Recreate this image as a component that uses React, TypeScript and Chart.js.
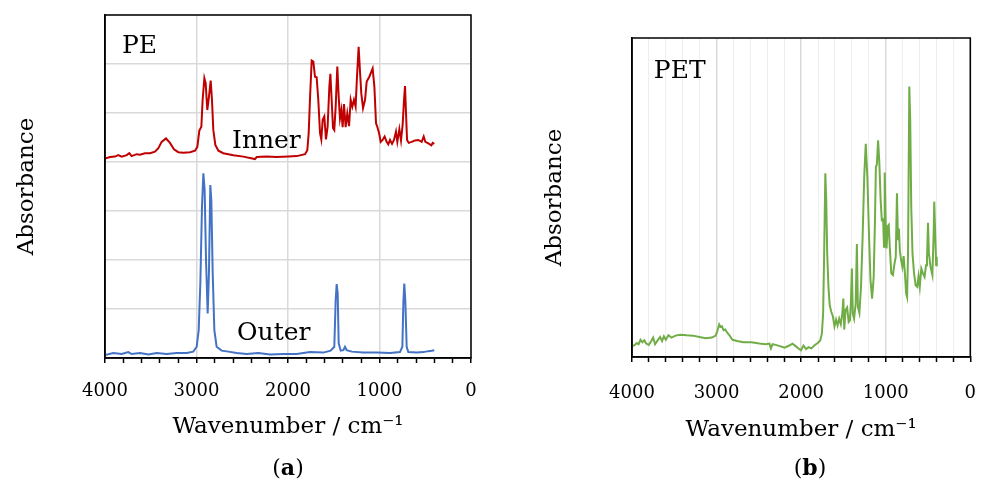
import React, { useEffect, useRef } from 'react';
import { Chart, registerables } from 'chart.js';

Chart.register(...registerables);

const FONT = "'DejaVu Serif', 'Liberation Serif', serif";

// ---- tick labels ----
const xMajorTicks = [4000, 3000, 2000, 1000, 0];

// ---- PE inner (red) ----
const innerWavenumber = [
  4000, 3945, 3891, 3854, 3818, 3763, 3734, 3709, 3654, 3617, 3563, 3508, 3454, 3417, 3381, 3333,
  3290, 3246, 3199, 3144, 3071, 3016, 2991, 2969, 2947, 2933, 2914, 2900, 2882, 2864, 2845, 2831,
  2816, 2794, 2761, 2707, 2597, 2488, 2361, 2342, 2233, 2124, 1996, 1905, 1814, 1789, 1774, 1760,
  1741, 1723, 1705, 1687, 1669, 1650, 1636, 1621, 1603, 1585, 1567, 1548, 1537, 1523, 1508, 1494,
  1479, 1461, 1446, 1432, 1417, 1403, 1388, 1370, 1352, 1333, 1315, 1297, 1279, 1261, 1246, 1228,
  1213, 1199, 1180, 1158, 1140, 1111, 1075, 1056, 1038, 1024, 1005, 987, 966, 944, 922, 904,
  885, 863, 842, 820, 805, 783, 765, 747, 732, 721, 710, 699, 681, 648, 612, 576,
  539, 517, 499, 466, 433, 419, 401,
];
const innerAbsorbance = [
  4.07, 4.10, 4.11, 4.14, 4.11, 4.14, 4.18, 4.12, 4.16, 4.15, 4.18, 4.18, 4.21, 4.28, 4.41, 4.48,
  4.39, 4.26, 4.20, 4.19, 4.20, 4.23, 4.31, 4.64, 4.72, 5.27, 5.71, 5.61, 5.06, 5.33, 5.66, 5.27,
  4.65, 4.35, 4.23, 4.18, 4.14, 4.11, 4.06, 4.10, 4.11, 4.10, 4.11, 4.12, 4.16, 4.24, 4.59, 5.27,
  6.07, 6.05, 5.74, 5.73, 5.27, 4.59, 4.46, 4.86, 4.93, 4.46, 4.72, 5.54, 5.80, 5.27, 4.69, 4.65,
  5.13, 5.95, 5.33, 4.89, 5.06, 4.71, 5.18, 4.71, 4.99, 4.73, 5.27, 5.13, 5.27, 5.13, 5.74, 6.35,
  5.84, 5.40, 5.10, 5.27, 5.64, 5.74, 5.91, 5.54, 4.79, 4.72, 4.59, 4.41, 4.45, 4.52, 4.41, 4.36,
  4.45, 4.37, 4.45, 4.62, 4.41, 4.67, 4.44, 4.76, 5.27, 5.55, 4.99, 4.45, 4.39, 4.41, 4.44, 4.45,
  4.41, 4.52, 4.41, 4.38, 4.34, 4.39, 4.37,
];

// ---- PE outer (blue) ----
const outerWavenumber = [
  4000, 3909, 3818, 3745, 3709, 3617, 3526, 3435, 3326, 3217, 3107, 3035, 2998, 2976, 2958, 2940,
  2925, 2911, 2896, 2878, 2864, 2849, 2838, 2823, 2805, 2780, 2725, 2652, 2561, 2452, 2324, 2197,
  2051, 1905, 1760, 1614, 1534, 1494, 1479, 1468, 1457, 1446, 1424, 1395, 1377, 1359, 1304, 1177,
  1031, 885, 776, 750, 739, 729, 718, 703, 685, 594, 521, 466, 430, 401,
];
const outerAbsorbance = [
  0.06, 0.10, 0.08, 0.12, 0.08, 0.10, 0.07, 0.10, 0.08, 0.10, 0.10, 0.13, 0.23, 0.57, 1.52, 3.09,
  3.77, 3.43, 2.00, 0.91, 1.73, 3.53, 3.22, 1.73, 0.57, 0.23, 0.15, 0.13, 0.10, 0.08, 0.10, 0.07,
  0.08, 0.08, 0.12, 0.11, 0.15, 0.23, 1.18, 1.51, 1.32, 0.30, 0.15, 0.16, 0.23, 0.16, 0.13, 0.11,
  0.11, 0.10, 0.12, 0.23, 1.15, 1.52, 1.18, 0.23, 0.12, 0.11, 0.12, 0.14, 0.15, 0.16,
];

// ---- PET (green) ----
const petWavenumber = [
  4000, 3970, 3944, 3922, 3899, 3877, 3854, 3832, 3802, 3772, 3750, 3727, 3697, 3668, 3645, 3623,
  3600, 3570, 3533, 3485, 3429, 3354, 3279, 3204, 3130, 3055, 3010, 2988, 2969, 2954, 2936, 2917,
  2898, 2876, 2850, 2812, 2756, 2682, 2588, 2495, 2420, 2375, 2357, 2338, 2301, 2252, 2196, 2140,
  2103, 2065, 2028, 2002, 1972, 1942, 1912, 1879, 1841, 1804, 1774, 1755, 1740, 1729, 1714, 1703,
  1692, 1677, 1662, 1643, 1625, 1606, 1587, 1569, 1550, 1531, 1513, 1501, 1490, 1475, 1456, 1438,
  1423, 1412, 1400, 1389, 1374, 1355, 1341, 1329, 1311, 1292, 1273, 1254, 1236, 1217, 1198, 1180,
  1161, 1142, 1127, 1116, 1105, 1090, 1075, 1060, 1046, 1031, 1020, 1012, 1001, 990, 975, 964,
  952, 934, 915, 896, 881, 867, 855, 844, 833, 818, 803, 788, 773, 758, 747, 736,
  721, 710, 698, 683, 665, 646, 627, 612, 597, 579, 560, 541, 523, 512, 500, 489,
  470, 448, 433, 426, 414, 403, 396,
];
const petAbsorbance = [
  3.4, 3.7, 4.4, 4.0, 5.4, 4.6, 5.2, 4.2, 3.8, 5.0, 6.1, 4.0, 5.2, 6.3, 5.0, 6.5,
  5.4, 6.8, 6.1, 6.7, 7.0, 6.8, 6.7, 6.3, 5.9, 6.1, 6.7, 8.4, 10.2, 9.4, 9.6, 8.4,
  8.6, 7.7, 6.9, 5.4, 5.0, 4.6, 4.6, 4.2, 4.0, 4.2, 2.7, 4.0, 3.8, 3.4, 2.9, 3.6,
  4.2, 3.4, 2.6, 2.1, 3.6, 2.5, 3.1, 2.7, 3.7, 4.4, 5.2, 7.3, 13.6, 30.4, 57.6, 49.2,
  32.5, 22.0, 16.2, 14.1, 12.8, 9.6, 11.7, 9.9, 12.0, 10.3, 13.6, 18.3, 8.6, 14.7, 15.5, 11.0,
  11.5, 16.8, 27.7, 13.6, 12.0, 16.8, 35.4, 15.7, 13.8, 22.0, 37.7, 56.5, 66.8, 56.5, 38.7, 24.1,
  18.3, 25.1, 42.9, 59.7, 60.2, 67.9, 60.7, 49.2, 42.9, 43.1, 34.6, 57.8, 42.9, 34.0, 41.0, 41.4,
  34.6, 26.2, 25.7, 29.3, 31.4, 51.3, 36.6, 40.3, 33.5, 30.4, 28.3, 31.6, 26.2, 19.9, 18.8, 32.5,
  84.8, 74.3, 47.1, 32.5, 26.2, 22.5, 22.0, 25.3, 22.0, 27.7, 26.2, 25.1, 28.8, 30.4, 42.1, 32.5,
  28.3, 25.7, 38.7, 48.7, 37.7, 28.8, 31.4,
];

const toXY = (xs: number[], ys: number[]) => xs.map((x, i) => ({ x, y: ys[i] }));

type Label = { text: string; x: number; y: number };

const framePlugin = (labels: Label[]) => ({
  id: 'frameLabels',
  afterDatasetsDraw(chart: any) {
    const ctx = chart.ctx;
    ctx.save();
    ctx.fillStyle = '#000';
    ctx.font = `25px ${FONT}`;
    ctx.textAlign = 'left';
    ctx.textBaseline = 'alphabetic';
    labels.forEach((l) => {
      ctx.fillText(l.text, chart.scales.x.getPixelForValue(l.x), chart.scales.y.getPixelForValue(l.y));
    });
    ctx.restore();
  },
  afterDraw(chart: any) {
    const { ctx, chartArea } = chart;
    ctx.save();
    ctx.strokeStyle = '#000';
    ctx.lineWidth = 1.5;
    ctx.strokeRect(chartArea.left, chartArea.top, chartArea.right - chartArea.left, chartArea.bottom - chartArea.top);
    ctx.restore();
  },
});

function xScale(height: number, tickPad: number, titlePad: number, minorGrid: string) {
  return {
    type: 'linear',
    reverse: true,
    min: 0,
    max: 4000,
    afterFit: (s: any) => {
      s.height = height;
    },
    ticks: {
      stepSize: 200,
      autoSkip: false,
      maxRotation: 0,
      padding: tickPad,
      color: '#000',
      font: { family: FONT, size: 18 },
      callback: (v: number) => (xMajorTicks.includes(Math.round(v)) ? String(Math.round(v)) : ''),
    },
    grid: {
      color: (c: any) => (c.tick && Math.round(c.tick.value) % 1000 === 0 ? '#d9d9d9' : minorGrid),
      lineWidth: (c: any) => (c.tick && Math.round(c.tick.value) % 1000 === 0 ? 1.5 : 1),
      tickColor: '#000',
      tickLength: 5,
      tickWidth: 1.5,
    },
    border: { color: '#000', width: 1.5 },
    title: {
      display: true,
      text: 'Wavenumber / cm\u207B\u00B9',
      color: '#000',
      font: { family: FONT, size: 23 },
      padding: { top: 0, bottom: titlePad },
    },
  };
}

function yScale(width: number, titlePad: number, max: number, showGrid: boolean) {
  return {
    type: 'linear',
    min: 0,
    max,
    afterFit: (s: any) => {
      s.width = width;
    },
    ticks: { display: false, stepSize: 1 },
    grid: { display: showGrid, color: '#d9d9d9', lineWidth: 1.5, drawTicks: false },
    border: { color: '#000', width: 1.5 },
    title: {
      display: true,
      text: 'Absorbance',
      color: '#000',
      font: { family: FONT, size: 23 },
      padding: { top: titlePad, bottom: 0 },
    },
  };
}

export default function App() {
  const refA = useRef<HTMLCanvasElement | null>(null);
  const refB = useRef<HTMLCanvasElement | null>(null);

  useEffect(() => {
    const chartA = new Chart(refA.current as HTMLCanvasElement, {
      type: 'line',
      data: {
        datasets: [
          {
            label: 'Inner',
            data: toXY(innerWavenumber, innerAbsorbance),
            borderColor: '#C00000',
            borderWidth: 2,
            pointRadius: 0,
            tension: 0,
          },
          {
            label: 'Outer',
            data: toXY(outerWavenumber, outerAbsorbance),
            borderColor: '#4472C4',
            borderWidth: 2,
            pointRadius: 0,
            tension: 0,
          },
        ],
      },
      options: {
        responsive: false,
        animation: false,
        events: [],
        layout: { padding: { top: 15, right: 29, left: 0, bottom: 0 } },
        plugins: { legend: { display: false }, tooltip: { enabled: false } },
        scales: {
          x: xScale(129, 18, 46, 'rgba(0,0,0,0)') as any,
          y: yScale(105, 13, 7, true) as any,
        },
      },
      plugins: [
        framePlugin([
          { text: 'PE', x: 3814, y: 6.22 },
          { text: 'Inner', x: 2612, y: 4.29 },
          { text: 'Outer', x: 2557, y: 0.37 },
        ]),
      ],
    });

    const chartB = new Chart(refB.current as HTMLCanvasElement, {
      type: 'line',
      data: {
        datasets: [
          {
            label: 'PET',
            data: toXY(petWavenumber, petAbsorbance),
            borderColor: '#70AD47',
            borderWidth: 2,
            pointRadius: 0,
            tension: 0,
          },
        ],
      },
      options: {
        responsive: false,
        animation: false,
        events: [],
        layout: { padding: { top: 38, right: 8, left: 0, bottom: 0 } },
        plugins: { legend: { display: false }, tooltip: { enabled: false } },
        scales: {
          x: xScale(130, 21, 43, '#eeeeee') as any,
          y: yScale(132, 41, 100, false) as any,
        },
      },
      plugins: [framePlugin([{ text: 'PET', x: 3742, y: 87.5 }])],
    });

    return () => {
      chartA.destroy();
      chartB.destroy();
    };
  }, []);

  const caption: React.CSSProperties = {
    position: 'absolute',
    top: 453,
    width: 100,
    textAlign: 'center',
    fontFamily: FONT,
    fontSize: 22,
    lineHeight: '28px',
    color: '#000',
  };

  return (
    <div style={{ position: 'fixed', left: 0, top: 0, width: 997, height: 487, background: '#fff', overflow: 'hidden' }}>
      <canvas ref={refA} width={500} height={487} style={{ position: 'absolute', left: 0, top: 0, width: 500, height: 487 }} />
      <canvas ref={refB} width={497} height={487} style={{ position: 'absolute', left: 500, top: 0, width: 497, height: 487 }} />
      <div style={{ ...caption, left: 238 }}>
        (<b>a</b>)
      </div>
      <div style={{ ...caption, left: 760 }}>
        (<b>b</b>)
      </div>
    </div>
  );
}
